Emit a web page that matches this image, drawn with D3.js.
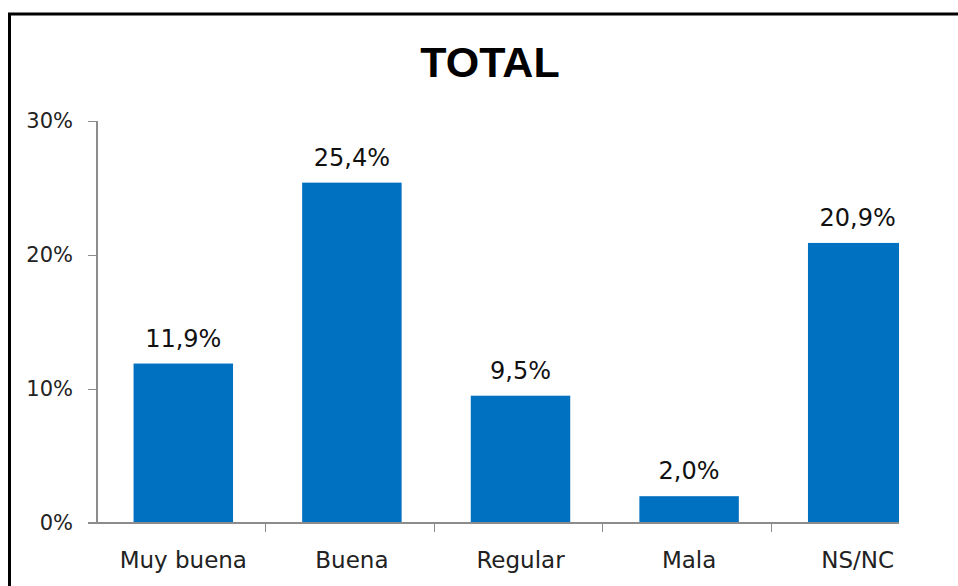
<html>
<head>
<script src="https://d3js.org/d3.v7.min.js"></script>
<style>
body { margin: 0; padding: 0; background: #fff; }
svg { display: block; }
.axis path, .axis line { stroke: #8c8c8c; stroke-width: 1.2; shape-rendering: crispEdges; }
.axis text { fill: #222; font-family: 'DejaVu Sans', sans-serif; }
</style>
</head>
<body>
<script>
var categories = ["Muy buena", "Buena", "Regular", "Mala", "NS/NC"];
var values = [11.9, 25.4, 9.5, 2.0, 20.9];
var valueLabels = ["11,9%", "25,4%", "9,5%", "2,0%", "20,9%"];
var yTicks = [0, 10, 20, 30];
var yTickLabels = ["0%", "10%", "20%", "30%"];

var W = 958, H = 586;
var plotLeft = 97, plotRight = 940, plotTop = 121, plotBottom = 523;

var svg = d3.select("body").append("svg")
    .attr("width", W)
    .attr("height", H);

// outer frame (picture is cropped on the right and bottom)
svg.append("rect")
    .attr("x", 9.5).attr("y", 14)
    .attr("width", W + 20).attr("height", H + 20)
    .attr("fill", "none")
    .attr("stroke", "#000")
    .attr("stroke-width", 3);

svg.append("text")
    .attr("x", 490).attr("y", 77)
    .attr("text-anchor", "middle")
    .style("font-family", "'Liberation Sans', Arial, sans-serif")
    .style("font-weight", "bold")
    .style("font-size", "43px")
    .text("TOTAL");

svg.append("clipPath").attr("id", "crop")
    .append("rect").attr("x", 0).attr("y", 0).attr("width", 899).attr("height", H);

var g = svg.append("g").attr("clip-path", "url(#crop)");

var x = d3.scaleBand().domain(categories).range([plotLeft + 2, plotRight + 2]).paddingInner(0.41).paddingOuter(0.205);
var xTicks = d3.scaleBand().domain(categories).range([plotLeft, plotRight]);
var y = d3.scaleLinear().domain([0, 30]).range([plotBottom, plotTop]);

g.selectAll("rect.bar")
    .data(values)
    .enter().append("rect")
    .attr("class", "bar")
    .attr("x", function (d, i) { return x(categories[i]); })
    .attr("width", x.bandwidth())
    .attr("y", function (d) { return y(d); })
    .attr("height", function (d) { return y(0) - y(d); })
    .attr("fill", "#0070c0");

g.selectAll("text.val")
    .data(values)
    .enter().append("text")
    .attr("class", "val")
    .attr("x", function (d, i) { return x(categories[i]) + x.bandwidth() / 2; })
    .attr("y", function (d) { return y(d) - 17; })
    .attr("text-anchor", "middle")
    .style("font-family", "'DejaVu Sans', sans-serif")
    .style("font-size", "24px")
    .style("fill", "#111")
    .text(function (d, i) { return valueLabels[i]; });

// y axis
var yAxis = d3.axisLeft(y)
    .tickValues(yTicks)
    .tickFormat(function (d, i) { return yTickLabels[i]; })
    .tickSize(9)
    .tickPadding(15);

g.append("g")
    .attr("class", "axis")
    .attr("transform", "translate(" + plotLeft + ",0)")
    .call(yAxis)
    .call(function (s) {
        s.select(".domain").attr("d", "M0," + plotTop + "V" + plotBottom);
        s.selectAll("text").style("font-size", "21px").attr("fill", "#333");
    });

// x axis: line with ticks between categories
var xa = g.append("g").attr("class", "axis");
xa.append("line")
    .attr("x1", plotLeft - 9).attr("x2", plotRight)
    .attr("y1", plotBottom).attr("y2", plotBottom);
xa.selectAll("line.tk")
    .data(categories)
    .enter().append("line")
    .attr("class", "tk")
    .attr("x1", function (d) { return xTicks(d) + xTicks.bandwidth(); })
    .attr("x2", function (d) { return xTicks(d) + xTicks.bandwidth(); })
    .attr("y1", plotBottom).attr("y2", plotBottom + 9);
xa.selectAll("text")
    .data(categories)
    .enter().append("text")
    .attr("x", function (d) { return x(d) + x.bandwidth() / 2; })
    .attr("y", plotBottom + 45)
    .attr("text-anchor", "middle")
    .style("font-size", "23px")
    .text(function (d) { return d; });
</script>
</body>
</html>
